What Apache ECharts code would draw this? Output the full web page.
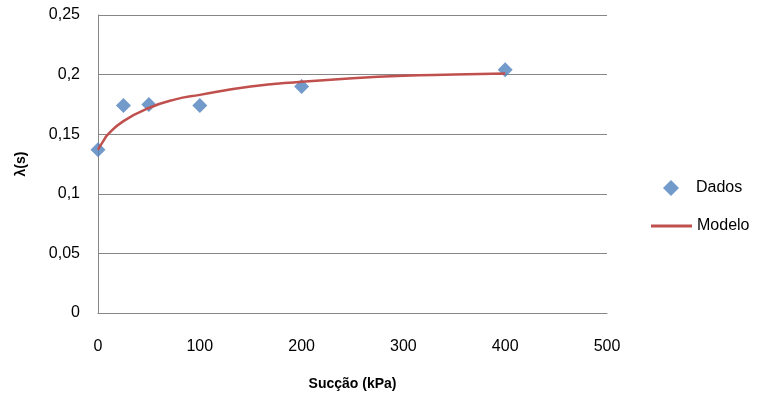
<!DOCTYPE html>
<html><head><meta charset="utf-8">
<script src="https://cdn.jsdelivr.net/npm/echarts@6/dist/echarts.min.js"></script>
<style>html,body{margin:0;padding:0;background:#fff}#c{width:760px;height:395px}</style>
</head><body><div id="c"></div>
<script>
const suctionData = [0, 25, 50, 100, 200, 400];
const lambdaData = [0.137, 0.174, 0.175, 0.174, 0.190, 0.204];
const suctionModel = [0, 5, 10, 25, 50, 75, 100, 150, 200, 250, 300, 350, 400];
const lambdaModel = [0.137, 0.144, 0.150, 0.161, 0.172, 0.179, 0.183, 0.190, 0.194, 0.197, 0.199, 0.200, 0.201];
const xTicks = [0, 100, 200, 300, 400, 500];
const yTicks = [0, 0.05, 0.1, 0.15, 0.2, 0.25];

const font = '"Liberation Sans", Arial, sans-serif';
const chart = echarts.init(document.getElementById('c'));
chart.setOption({
  animation: false,
  grid: {left: 98, top: 15, right: 153, bottom: 82, containLabel: false, outerBoundsMode: 'none'},
  legend: [
    {orient: 'vertical', left: 658, top: 175, itemWidth: 16, itemHeight: 16,
     textStyle: {fontFamily: font, fontSize: 16, color: '#000', padding: [0, 0, 0, 12]},
     data: [{name: 'Dados', icon: 'diamond'}]},
    {orient: 'vertical', left: 646, top: 213, itemWidth: 41, itemHeight: 3,
     textStyle: {fontFamily: font, fontSize: 16, color: '#000', padding: [0, 0, 0, 0]},
     data: [{name: 'Modelo', icon: 'rect'}]}
  ],
  xAxis: {
    type: 'value', min: xTicks[0], max: xTicks[xTicks.length-1], interval: 100,
    name: 'Sucção (kPa)', nameLocation: 'middle', nameGap: 64,
    nameTextStyle: {fontFamily: font, fontSize: 14, fontWeight: 'bold', color: '#000'},
    axisLine: {lineStyle: {color: '#868686', width: 1}},
    axisTick: {show: false},
    axisLabel: {fontFamily: font, fontSize: 16, color: '#000', margin: 26},
    splitLine: {show: false}
  },
  yAxis: {
    type: 'value', min: yTicks[0], max: yTicks[yTicks.length-1], interval: 0.05,
    name: 'λ(s)', nameLocation: 'middle', nameGap: 70, nameRotate: 90,
    nameTextStyle: {fontFamily: font, fontSize: 14, fontWeight: 'bold', color: '#000'},
    axisLine: {show: true, lineStyle: {color: '#868686', width: 1}},
    axisTick: {show: false},
    axisLabel: {fontFamily: font, fontSize: 16, color: '#000', margin: 18,
      formatter: v => String(Math.round(v*100)/100).replace('.', ',')},
    splitLine: {show: true, lineStyle: {color: '#868686', width: 1}}
  },
  series: [
    {name: 'Dados', type: 'scatter', symbol: 'diamond', symbolSize: 15,
     itemStyle: {color: '#4F81BD'}, z: 3,
     data: suctionData.map((x, i) => [x, lambdaData[i]])},
    {name: 'Modelo', type: 'line', smooth: true, showSymbol: false, symbol: 'none',
     lineStyle: {color: '#C0504D', width: 2.5}, itemStyle: {color: '#C0504D'}, z: 4,
     data: suctionModel.map((x, i) => [x, lambdaModel[i]])}
  ]
});
</script></body></html>
